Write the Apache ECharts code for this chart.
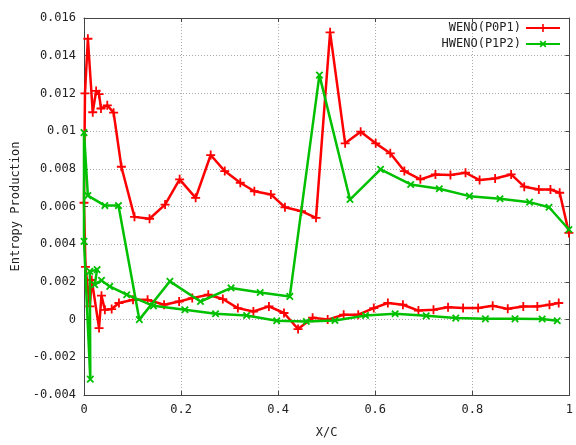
<!DOCTYPE html>
<html>
<head>
<meta charset="utf-8">
<script src="https://cdn.jsdelivr.net/npm/echarts@6/dist/echarts.min.js"></script>
<style>
html,body{margin:0;padding:0;background:#fff;}
#chart{width:576px;height:445px;}
</style>
</head>
<body>
<div id="chart"></div>
<script>
// WENO(P0P1): lower surface (trailing edge -> leading edge), then upper surface (leading edge -> trailing edge)
var wenoX = [0.978,0.959,0.934,0.905,0.873,0.842,0.812,0.781,0.750,0.720,0.689,0.657,0.626,0.597,0.565,0.535,0.502,0.471,0.441,0.412,0.381,0.349,0.317,0.286,0.256,0.223,0.196,0.165,0.131,0.101,0.072,0.057,0.043,0.036,0.031,0.016,0.012,0.003,0.000,
             0.002,0.008,0.018,0.025,0.031,0.035,0.048,0.061,0.077,0.104,0.135,0.167,0.197,0.230,0.261,0.290,0.322,0.351,0.385,0.414,0.448,0.478,0.507,0.538,0.570,0.601,0.631,0.660,0.693,0.724,0.755,0.786,0.815,0.847,0.880,0.907,0.937,0.961,0.980,0.999];
var wenoY = [0.00088,0.00079,0.00070,0.00070,0.00057,0.00073,0.00061,0.00061,0.00066,0.00052,0.00048,0.00079,0.00088,0.00061,0.00026,0.00026,0.00000,0.00010,-0.00050,0.00035,0.00070,0.00043,0.00061,0.00109,0.00132,0.00114,0.00096,0.00079,0.00105,0.00105,0.00088,0.00056,0.00052,0.00127,-0.00045,0.00210,0.00070,0.00280,0.00620,
             0.01200,0.01490,0.01100,0.01213,0.01196,0.01120,0.01137,0.01098,0.00811,0.00545,0.00535,0.00610,0.00744,0.00646,0.00873,0.00788,0.00726,0.00681,0.00664,0.00596,0.00575,0.00540,0.01524,0.00935,0.00997,0.00935,0.00882,0.00788,0.00744,0.00770,0.00767,0.00779,0.00740,0.00749,0.00770,0.00705,0.00690,0.00690,0.00673,0.00460];
// HWENO(P1P2)
var hwenoX = [0.975,0.944,0.888,0.827,0.766,0.705,0.641,0.580,0.517,0.458,0.397,0.335,0.271,0.208,0.143,0.088,0.053,0.036,0.022,0.027,0.012,0.013,0.000,0.000,
              0.008,0.043,0.071,0.114,0.177,0.240,0.303,0.363,0.424,0.485,0.548,0.611,0.673,0.732,0.794,0.857,0.918,0.958,0.999];
var hwenoY = [-0.00006,0.00003,0.00004,0.00004,0.00008,0.00020,0.00031,0.00022,-0.00005,-0.00010,-0.00006,0.00022,0.00031,0.00052,0.00073,0.00132,0.00176,0.00208,0.00185,0.00265,0.00256,-0.00316,0.00415,0.00992,
              0.00658,0.00605,0.00605,0.00000,0.00203,0.00096,0.00168,0.00144,0.00123,0.01297,0.00637,0.00797,0.00717,0.00694,0.00655,0.00641,0.00623,0.00596,0.00478];
var xTicks = [0, 0.2, 0.4, 0.6, 0.8, 1];
var yTicks = [-0.004, -0.002, 0, 0.002, 0.004, 0.006, 0.008, 0.01, 0.012, 0.014, 0.016];

function pairs(xs, ys){ return xs.map(function(x,i){ return [x, ys[i]]; }); }

var PLUS = 'path://M4,0H6V4H10V6H6V10H4V6H0V4H4Z';
var FONT = 'DejaVu Sans Mono';
var xMin = xTicks[0], xMax = xTicks[xTicks.length-1];
var yMin = yTicks[0], yMax = yTicks[yTicks.length-1];
var chart = echarts.init(document.getElementById('chart'), null, {renderer:'canvas'});
var mirrorAxis = {
  axisLabel:{show:false}, splitLine:{show:false},
  axisLine:{show:true, onZero:false, lineStyle:{color:'#444', width:1}},
  axisTick:{show:true, inside:true, length:4, lineStyle:{color:'#444'}}
};
var gridLine = {show:true, lineStyle:{color:'#aaaaaa', type:[1,2], width:1}};
chart.setOption({
  animation:false,
  backgroundColor:'#fff',
  grid:{left:84, right:1, top:18, bottom:50, containLabel:false},
  legend:{
    orient:'vertical', right:15, top:22, align:'right', padding:0,
    itemWidth:34, itemHeight:10, itemGap:4,
    textStyle:{fontFamily:FONT, fontSize:12, color:'#222'},
    data:['WENO(P0P1)','HWENO(P1P2)']
  },
  xAxis:[{
    type:'value', min:xMin, max:xMax, interval:0.2,
    name:'X/C', nameLocation:'middle', nameGap:32,
    nameTextStyle:{fontFamily:FONT, fontSize:12, color:'#222'},
    axisLine:{show:true, onZero:false, lineStyle:{color:'#444', width:1}},
    axisTick:{show:true, inside:true, length:4, lineStyle:{color:'#444'}},
    axisLabel:{fontFamily:FONT, fontSize:12, color:'#222', margin:9,
      formatter:function(v){ return String(+v.toFixed(3)); }},
    splitLine:gridLine
  }, Object.assign({type:'value', position:'top', min:xMin, max:xMax, interval:0.2}, mirrorAxis)],
  yAxis:[{
    type:'value', min:yMin, max:yMax, interval:0.002,
    name:'Entropy Production', nameLocation:'middle', nameGap:58,
    nameTextStyle:{fontFamily:FONT, fontSize:12, color:'#222'},
    axisLine:{show:true, onZero:false, lineStyle:{color:'#444', width:1}},
    axisTick:{show:true, inside:true, length:4, lineStyle:{color:'#444'}},
    axisLabel:{fontFamily:FONT, fontSize:12, color:'#222', margin:8,
      formatter:function(v){ return String(+v.toFixed(3)); }},
    splitLine:gridLine
  }, Object.assign({type:'value', position:'right', min:yMin, max:yMax, interval:0.002}, mirrorAxis)],
  series:[{
    name:'WENO(P0P1)', type:'line', data:pairs(wenoX, wenoY),
    color:'#ff0000', symbol:PLUS, symbolSize:9, showAllSymbol:true,
    lineStyle:{width:2.5, color:'#ff0000'}, itemStyle:{color:'#ff0000'},
    clip:true, z:2
  },{
    name:'HWENO(P1P2)', type:'line', data:pairs(hwenoX, hwenoY),
    color:'#00c000', symbol:PLUS, symbolRotate:45, symbolSize:9, showAllSymbol:true,
    lineStyle:{width:2.5, color:'#00c000'}, itemStyle:{color:'#00c000'},
    clip:true, z:3
  }]
});
</script>
</body>
</html>
